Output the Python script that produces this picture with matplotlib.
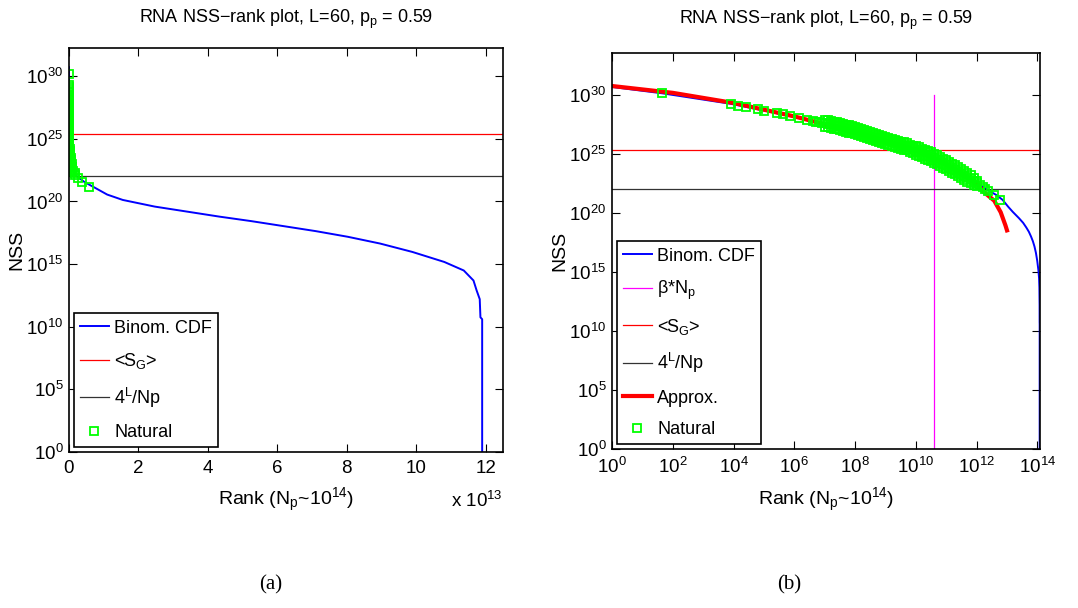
import matplotlib
matplotlib.use("Agg")
import matplotlib.pyplot as plt
import numpy as np
from matplotlib.ticker import FixedLocator, FuncFormatter, NullLocator

plt.rcParams["font.family"] = ["Liberation Sans", "DejaVu Sans"]
plt.rcParams["mathtext.fontset"] = "custom"
plt.rcParams["mathtext.rm"] = "Liberation Sans"
plt.rcParams["mathtext.it"] = "Liberation Sans"
plt.rcParams["mathtext.default"] = "regular"

# binomial CDF curve: rank and log10(NSS)
bin_rank = np.array([1, 45, 8.1e3, 1e5, 2.6e6, 3.2e7, 4e8, 4.9e9, 4.1e10, 2.1e11,
                     7.4e11, 2.0e12, 4.4e12, 7.1e12, 1.1e13, 1.55e13, 2.47e13, 3.40e13,
                     4.33e13, 5.25e13, 6.18e13, 7.11e13, 8.03e13, 8.96e13, 9.89e13,
                     10.81e13, 11.37e13, 11.65e13, 11.74e13, 11.83e13, 11.85e13,
                     11.90e13, 11.90e13])
bin_exp = np.array([30.72, 30.18, 29.29, 28.72, 27.94, 27.37, 26.51, 25.65, 24.64, 23.64,
                    22.78, 22.07, 21.56, 21.15, 20.55, 20.12, 19.59, 19.19,
                    18.79, 18.43, 18.03, 17.63, 17.18, 16.64, 15.97,
                    15.17, 14.49, 13.69, 12.9, 12.2, 10.75,
                    10.6, -1.0])

# approximation (right panel only)
approx_rank = np.array([1, 1e2, 1e4, 1e6, 1e8, 1e10, 1e11, 1e12, 1.8e12, 3.8e12,
                        6.2e12, 8.9e12, 1.0e13])
approx_exp = np.array([30.80, 30.22, 29.36, 28.22, 26.88, 25.36, 24.18, 22.55, 21.77,
                       21.07, 20.09, 18.97, 18.55])

# natural sequences: log10(rank), log10(NSS) along the middle of the cloud
nat_lrank = np.array([1.65, 3.92, 4.16, 4.42, 4.79, 4.99, 5.43, 5.63, 5.87, 6.16, 6.43, 6.61,
                      6.7, 6.8, 6.9, 7.0, 7.1, 7.2, 7.3, 7.4, 7.5, 7.6, 7.7, 7.8, 7.9,
                      8.0, 8.1, 8.2, 8.3, 8.4, 8.5, 8.6, 8.7, 8.8, 8.9, 9.0, 9.1, 9.2,
                      9.3, 9.4, 9.5, 9.6, 9.7, 9.8, 9.9, 10.0, 10.1, 10.2, 10.3, 10.4,
                      10.5, 10.6, 10.7, 10.8, 10.9, 11.0, 11.1, 11.2, 11.3, 11.4, 11.5,
                      11.6, 11.7, 11.8, 11.9, 12.0, 12.1, 12.2,
                      12.26, 12.39, 12.58, 12.77])
nat_exp = np.array([30.18, 29.26, 29.12, 28.98, 28.82, 28.72, 28.50, 28.40, 28.25, 28.09, 27.94, 27.85,
                    27.78, 27.74, 27.68, 27.64, 27.58, 27.54, 27.48, 27.43, 27.37, 27.30, 27.23, 27.15, 27.08,
                    27.00, 26.92, 26.84, 26.76, 26.68, 26.60, 26.51, 26.43, 26.35, 26.27, 26.19, 26.11, 26.03,
                    25.95, 25.87, 25.79, 25.71, 25.64, 25.53, 25.42, 25.31, 25.20, 25.09, 24.98, 24.87,
                    24.76, 24.65, 24.51, 24.37, 24.22, 24.08, 23.94, 23.80, 23.66, 23.52, 23.36,
                    23.20, 23.04, 22.89, 22.73, 22.57, 22.41, 22.25,
                    22.10, 21.86, 21.55, 21.15])

# upper and lower edges of the dense part of the cloud
band_lrank = np.array([7.0, 7.1, 7.2, 7.3, 7.4, 7.5, 7.6, 7.7, 7.8, 7.9,
                       8.0, 8.1, 8.2, 8.3, 8.4, 8.5, 8.6, 8.7, 8.8, 8.9,
                       9.0, 9.1, 9.2, 9.3, 9.4, 9.5, 9.6, 9.7, 9.8, 9.9,
                       10.0, 10.1, 10.2, 10.3, 10.4, 10.5, 10.6, 10.7, 10.8, 10.9,
                       11.0, 11.1, 11.2, 11.3, 11.4, 11.5, 11.6, 11.7, 11.8, 11.9, 12.0])
band_hi_exp = np.array([27.94, 27.88, 27.84, 27.78, 27.73, 27.67, 27.60, 27.53, 27.45, 27.38,
                        27.30, 27.22, 27.14, 27.06, 26.98, 26.90, 26.81, 26.73, 26.65, 26.57,
                        26.49, 26.41, 26.33, 26.25, 26.17, 26.09, 26.01, 25.94, 25.83, 25.72,
                        25.71, 25.60, 25.49, 25.38, 25.27, 25.16, 25.05, 24.91, 24.77, 24.62,
                        24.48, 24.34, 24.20, 24.06, 23.92, 23.76, 23.60, 23.44, 23.29, 23.03, 22.77])
band_lo_exp = np.array([27.34, 27.28, 27.24, 27.18, 27.13, 27.07, 27.00, 26.93, 26.85, 26.78,
                        26.70, 26.62, 26.54, 26.46, 26.38, 26.30, 26.21, 26.13, 26.05, 25.97,
                        25.89, 25.81, 25.73, 25.65, 25.57, 25.49, 25.41, 25.34, 25.23, 25.12,
                        24.96, 24.85, 24.74, 24.63, 24.52, 24.41, 24.30, 24.16, 24.02, 23.87,
                        23.73, 23.59, 23.45, 23.31, 23.17, 23.01, 22.85, 22.69, 22.54, 22.43, 22.32])

S_G = 2.5e25          # <S_G>
four_L_Np = 1.12e22   # 4^L / Np
beta_Np = 4.1e10      # beta * Np

nat_rank = 10 ** np.concatenate([nat_lrank, band_lrank, band_lrank])
nat_nss = 10 ** np.concatenate([nat_exp, band_hi_exp, band_lo_exp])

FS = 13.5
title = "RNA NSS\u2212rank plot, L=60, p$_p$ = 0.59"
xlab = "Rank (N$_p$~10$^{14}$)"
sq = dict(ls="none", marker="s", ms=5.5, mfc="none", mec=(0, 1, 0), mew=1.3)

fig = plt.figure(figsize=(10.78, 6.08), dpi=100)
W, H = 1078, 608
ax1 = fig.add_axes([69 / W, 1 - 452 / H, 434 / W, 404 / H])
ax2 = fig.add_axes([612 / W, 1 - 449 / H, 428 / W, 396 / H])

logfmt = FuncFormatter(lambda v, p: r"$10^{%d}$" % round(np.log10(v)))

# (a) linear rank axis
ax1.plot(bin_rank / 1e13, 10 ** bin_exp, color="blue", lw=1.4, label="Binom. CDF")
ax1.axhline(S_G, color="red", lw=0.9, label="<S$_G$>")
ax1.axhline(four_L_Np, color="#333333", lw=0.9, label="4$^L$/Np")
ax1.plot(nat_rank / 1e13, nat_nss, label="Natural", **sq)
ax1.set_yscale("log")
ax1.set_xlim(0, 12.5)
ax1.set_ylim(1, 10 ** 32.25)
ax1.xaxis.set_major_locator(FixedLocator(np.arange(0, 13, 2)))
ax1.text(1.0, -0.12, "x 10$^{13}$", transform=ax1.transAxes, ha="right", va="center",
         fontsize=FS)

# (b) log rank axis
ax2.plot(bin_rank, 10 ** bin_exp, color="blue", lw=1.4, label="Binom. CDF")
ax2.plot([beta_Np, beta_Np], [1e-1, 1e30], color="magenta", lw=0.9, label="\u03b2*N$_p$")
ax2.axhline(S_G, color="red", lw=0.9, label="<S$_G$>")
ax2.axhline(four_L_Np, color="#333333", lw=0.9, label="4$^L$/Np")
ax2.plot(approx_rank, 10 ** approx_exp, color="red", lw=3, label="Approx.")
ax2.plot(nat_rank, nat_nss, label="Natural", **sq)
ax2.set_xscale("log")
ax2.set_yscale("log")
ax2.set_xlim(1, 1.22e14)
ax2.set_ylim(1, 10 ** 33.6)
ax2.xaxis.set_major_locator(FixedLocator([10.0 ** k for k in range(0, 15, 2)]))
ax2.xaxis.set_major_formatter(logfmt)
ax2.xaxis.set_minor_locator(NullLocator())

for ax, tpad in ((ax1, 18), (ax2, 21)):
    ax.yaxis.set_major_locator(FixedLocator([10.0 ** k for k in range(0, 31, 5)]))
    ax.yaxis.set_major_formatter(logfmt)
    ax.yaxis.set_minor_locator(NullLocator())
    ax.tick_params(direction="in", length=6, width=0.8, top=True, right=True,
                   labelsize=FS, pad=4)
    ax.tick_params(axis="x", pad=6)
    for s in ax.spines.values():
        s.set_linewidth(1.2)
    ax.set_title(title, fontsize=13, pad=tpad)
    ax.set_xlabel(xlab, fontsize=14, labelpad=6)
    ax.set_ylabel("NSS", fontsize=14, labelpad=1)
    leg = ax.legend(loc="lower left", fontsize=13, frameon=True, fancybox=False,
                    edgecolor="black", framealpha=1, handlelength=1.6, handletextpad=0.3,
                    labelspacing=0.8, borderpad=0.35, borderaxespad=0.25, numpoints=1)
    leg.get_frame().set_linewidth(1.2)

fig.text(271 / W, 1 - 585 / H, "(a)", family="Liberation Serif", fontsize=15,
         ha="center", va="center")
fig.text(789 / W, 1 - 585 / H, "(b)", family="Liberation Serif", fontsize=15,
         ha="center", va="center")

fig.savefig("out.png", dpi=100)
